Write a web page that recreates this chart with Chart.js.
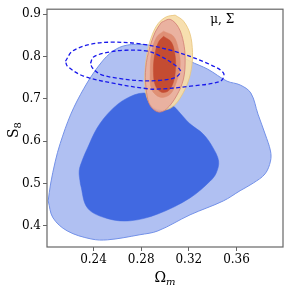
<!DOCTYPE html>
<html>
<head>
<meta charset="utf-8">
<script src="https://cdn.jsdelivr.net/npm/chart.js@4.4.1/dist/chart.umd.min.js"></script>
<style>
  html, body { margin: 0; padding: 0; background: #fff; }
  #wrap { width: 291px; height: 291px; }
</style>
</head>
<body>
<div id="wrap"><canvas id="c" width="291" height="291"></canvas></div>
<script>
// tick labels
const xTicks = [0.24, 0.28, 0.32, 0.36];
const yTicks = [0.4, 0.5, 0.6, 0.7, 0.8, 0.9];

// contours as [Omega_m, S8]
const blueOuter = [
  [0.202, 0.459], [0.204, 0.499], [0.208, 0.553], [0.212, 0.594], [0.221, 0.664],
  [0.232, 0.725], [0.243, 0.773], [0.254, 0.808], [0.265, 0.825], [0.279, 0.829],
  [0.290, 0.825], [0.305, 0.813], [0.321, 0.789], [0.336, 0.770], [0.352, 0.742],
  [0.363, 0.733], [0.372, 0.714], [0.378, 0.664], [0.384, 0.617], [0.3885, 0.577],
  [0.3885, 0.553], [0.384, 0.523], [0.374, 0.501], [0.363, 0.483], [0.349, 0.459],
  [0.321, 0.426], [0.294, 0.388], [0.279, 0.379], [0.252, 0.367], [0.238, 0.369],
  [0.218, 0.388], [0.206, 0.419], [0.202, 0.459]
];
const blueInner = [
  [0.229, 0.499], [0.228, 0.530], [0.231, 0.558], [0.235, 0.584], [0.243, 0.631],
  [0.254, 0.671], [0.267, 0.700], [0.282, 0.714], [0.296, 0.702], [0.307, 0.683],
  [0.315, 0.659], [0.321, 0.641], [0.332, 0.617], [0.340, 0.586], [0.345, 0.553],
  [0.343, 0.525], [0.338, 0.506], [0.321, 0.466], [0.294, 0.428], [0.271, 0.412],
  [0.252, 0.417], [0.235, 0.442], [0.229, 0.499]
];
const orangeOuter = [
  [0.3085, 0.898], [0.3155, 0.884], [0.3211, 0.853], [0.3231, 0.810], [0.3225, 0.778],
  [0.3197, 0.743], [0.3138, 0.707], [0.3071, 0.683], [0.3004, 0.674], [0.2929, 0.676],
  [0.2870, 0.690], [0.2836, 0.718], [0.2832, 0.763], [0.2853, 0.813], [0.2895, 0.853],
  [0.2945, 0.879], [0.3012, 0.894], [0.3085, 0.898]
];
const redOuter = [
  [0.2970, 0.881], [0.3043, 0.888], [0.3113, 0.869], [0.3155, 0.834], [0.3169, 0.794],
  [0.3155, 0.747], [0.3096, 0.707], [0.3012, 0.676], [0.2945, 0.669], [0.2876, 0.684],
  [0.2845, 0.716], [0.2836, 0.763], [0.2861, 0.810], [0.2918, 0.858], [0.2970, 0.881]
];
const orangeInner = [
  [0.2987, 0.860], [0.3071, 0.848], [0.3113, 0.817], [0.3127, 0.778], [0.3096, 0.740],
  [0.3043, 0.711], [0.2960, 0.704], [0.2887, 0.723], [0.2876, 0.763], [0.2887, 0.810],
  [0.2929, 0.846], [0.2987, 0.860]
];
const redInner = [
  [0.2987, 0.848], [0.3054, 0.834], [0.3085, 0.802], [0.3088, 0.770], [0.3071, 0.740],
  [0.3029, 0.719], [0.2970, 0.716], [0.2920, 0.731], [0.2903, 0.763], [0.2912, 0.802],
  [0.2945, 0.834], [0.2987, 0.848]
];
const dashOuter = [
  [0.2165, 0.789], [0.2224, 0.813], [0.2375, 0.829], [0.2543, 0.834], [0.2794, 0.830],
  [0.3071, 0.813], [0.3356, 0.784], [0.3491, 0.761], [0.3465, 0.742], [0.3214, 0.730],
  [0.2937, 0.723], [0.2853, 0.724], [0.2601, 0.735], [0.2316, 0.754], [0.2182, 0.777],
  [0.2165, 0.789]
];
const dashInner = [
  [0.2375, 0.784], [0.2400, 0.799], [0.2517, 0.810], [0.2668, 0.815], [0.2853, 0.813],
  [0.2962, 0.801], [0.3063, 0.784], [0.3130, 0.766], [0.3088, 0.751], [0.2962, 0.744],
  [0.2794, 0.743], [0.2601, 0.749], [0.2459, 0.758], [0.2392, 0.773], [0.2375, 0.784]
];
const modelLabel = "μ, Σ";
const modelLabelAt = [0.348, 0.886];

const SERIF = "'DejaVu Serif', serif";
const toXY = (arr) => arr.map(([x, y]) => ({ x, y }));

function contour(data, fillColor, edgeColor, edgeWidth, order) {
  return {
    data: toXY(data),
    backgroundColor: fillColor,
    borderColor: edgeColor,
    borderWidth: edgeWidth,
    fill: "shape",
    tension: 0.35,
    pointRadius: 0,
    order,
  };
}
function dashed(data, order) {
  return {
    data: toXY(data),
    borderColor: "rgb(25,25,235)",
    borderWidth: 1.3,
    borderDash: [4, 2.5],
    fill: false,
    tension: 0.35,
    pointRadius: 0,
    order,
  };
}

const textPlugin = {
  id: "frameAndText",
  afterDraw(chart) {
    const { ctx, chartArea: a, scales } = chart;
    ctx.save();
    ctx.strokeStyle = "#666";
    ctx.lineWidth = 1.2;
    ctx.strokeRect(a.left, a.top, a.right - a.left, a.bottom - a.top);

    ctx.fillStyle = "#000";
    ctx.textBaseline = "alphabetic";
    // x title: Omega_m
    ctx.font = "14px " + SERIF;
    const wO = ctx.measureText("Ω").width;
    ctx.font = "italic 10px " + SERIF;
    const wm = ctx.measureText("m").width;
    let x0 = (a.left + a.right) / 2 - (wO + wm) / 2;
    ctx.font = "14px " + SERIF;
    ctx.fillText("Ω", x0, 282);
    ctx.font = "italic 10px " + SERIF;
    ctx.fillText("m", x0 + wO, 285);

    // y title: S_8
    ctx.translate(18, 130);
    ctx.rotate(-Math.PI / 2);
    ctx.font = "14px " + SERIF;
    const wS = ctx.measureText("S").width;
    ctx.font = "10px " + SERIF;
    const w8 = ctx.measureText("8").width;
    x0 = -(wS + w8) / 2;
    ctx.font = "14px " + SERIF;
    ctx.fillText("S", x0, 0);
    ctx.font = "10px " + SERIF;
    ctx.fillText("8", x0 + wS, 3);
    ctx.restore();

    ctx.save();
    ctx.font = "12px " + SERIF;
    ctx.fillStyle = "#000";
    ctx.textAlign = "center";
    ctx.textBaseline = "middle";
    ctx.fillText(modelLabel, scales.x.getPixelForValue(modelLabelAt[0]), scales.y.getPixelForValue(modelLabelAt[1]));
    ctx.restore();
  },
};

new Chart(document.getElementById("c"), {
  type: "line",
  data: {
    datasets: [
      contour(blueOuter, "rgb(176,192,242)", "rgb(115,145,232)", 1, 10),
      contour(blueInner, "rgb(65,105,225)", "rgb(65,105,225)", 0.5, 9),
      contour(orangeOuter, "rgba(246,220,168,0.92)", "rgb(232,196,120)", 0.8, 8),
      contour(redOuter, "rgba(232,172,158,0.88)", "rgb(210,125,115)", 0.8, 7),
      contour(orangeInner, "rgba(222,140,112,0.9)", "rgba(222,140,112,0.9)", 0.5, 6),
      contour(redInner, "rgb(196,76,50)", "rgb(196,76,50)", 0.5, 5),
      dashed(dashOuter, 2),
      dashed(dashInner, 1),
    ],
  },
  options: {
    responsive: false,
    animation: false,
    devicePixelRatio: 1,
    layout: { padding: { top: 8, right: 8, left: 0, bottom: 0 } },
    plugins: { legend: { display: false }, tooltip: { enabled: false }, filler: { propagate: false } },
    scales: {
      x: {
        type: "linear",
        min: 0.201,
        max: 0.399,
        afterBuildTicks: (s) => { s.ticks = xTicks.map((v) => ({ value: v })); },
        afterFit: (s) => { s.height = 44; },
        border: { display: false },
        grid: { drawOnChartArea: false, tickLength: 4, color: "#666", lineWidth: 1 },
        ticks: { color: "#000", font: { family: SERIF, size: 12 }, padding: 2, maxRotation: 0,
                 callback: (v) => Number(v).toFixed(2) },
      },
      y: {
        type: "linear",
        min: 0.35,
        max: 0.912,
        afterBuildTicks: (s) => { s.ticks = yTicks.map((v) => ({ value: v })); },
        afterFit: (s) => { s.width = 47; },
        border: { display: false },
        grid: { drawOnChartArea: false, tickLength: 4, color: "#666", lineWidth: 1 },
        ticks: { color: "#000", font: { family: SERIF, size: 12 }, padding: 2,
                 callback: (v) => Number(v).toFixed(1) },
      },
    },
  },
  plugins: [textPlugin],
});
</script>
</body>
</html>
